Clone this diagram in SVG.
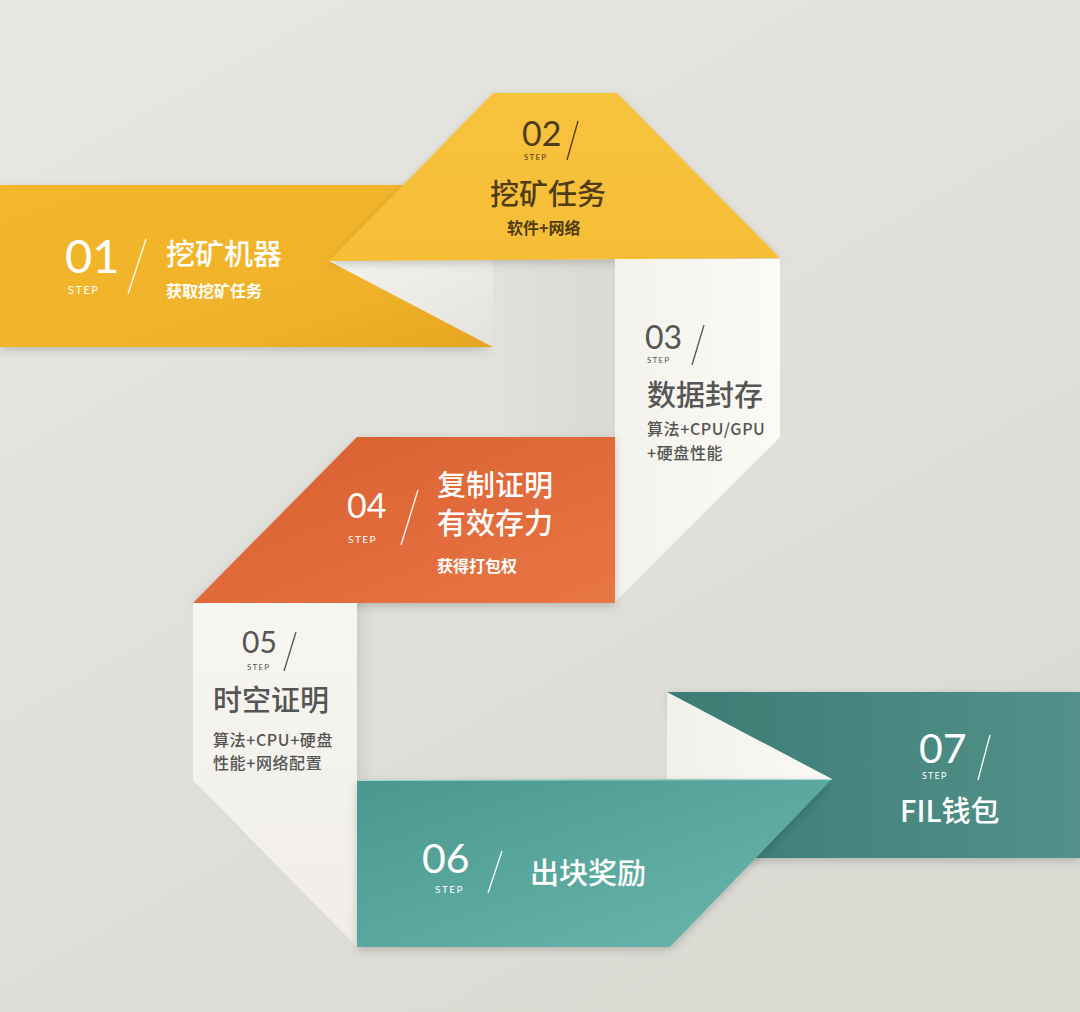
<svg xmlns="http://www.w3.org/2000/svg" width="1080" height="1012" viewBox="0 0 1080 1012">
<defs>
<style>
.num{font-family:Lato,'Liberation Sans',sans-serif;font-weight:400}
.step{font-family:Lato,'Liberation Sans',sans-serif;font-weight:400;letter-spacing:1.5px}
.title{font-family:'Noto Sans CJK SC',sans-serif;font-size:29px;font-weight:500}
.sub{font-family:'Noto Sans CJK SC',sans-serif;font-size:16px;font-weight:700}
.sp{letter-spacing:0.6px}
.w{fill:#ffffff}
.d{fill:#4f3c17}
.g{fill:#555555}
.slw{stroke:#ffffff;stroke-width:1.3}
.sld{stroke:#4f3c17;stroke-width:1.3}
.slg{stroke:#555555;stroke-width:1.3}
</style>
<linearGradient id="bg" x1="0" y1="0" x2="0.6" y2="1">
<stop offset="0" stop-color="#e8e8e3"/>
<stop offset="1" stop-color="#dbdad3"/>
</linearGradient>
<linearGradient id="y1" x1="0" y1="0" x2="1" y2="1">
<stop offset="0" stop-color="#f2b72c"/>
<stop offset="0.7" stop-color="#f0b22a"/>
<stop offset="1" stop-color="#e6a51f"/>
</linearGradient>
<linearGradient id="y2" x1="0" y1="0" x2="0" y2="1">
<stop offset="0" stop-color="#f8c33e"/>
<stop offset="1" stop-color="#f6be36"/>
</linearGradient>
<linearGradient id="wt1" x1="0" y1="0" x2="1" y2="1">
<stop offset="0" stop-color="#f5f3ef"/>
<stop offset="1" stop-color="#e4e2dc"/>
</linearGradient>
<linearGradient id="strip" x1="0" y1="0" x2="1" y2="0">
<stop offset="0" stop-color="#e2e1dc"/>
<stop offset="1" stop-color="#d9d8d2"/>
</linearGradient>
<linearGradient id="strip2" x1="0" y1="0" x2="1" y2="0">
<stop offset="0" stop-color="#cfcec7"/>
<stop offset="1" stop-color="#dfded8" stop-opacity="0"/>
</linearGradient>
<linearGradient id="p3" x1="0" y1="0" x2="1" y2="0">
<stop offset="0" stop-color="#f4f2ec"/>
<stop offset="1" stop-color="#fbfaf6"/>
</linearGradient>
<linearGradient id="or" x1="0" y1="0" x2="1" y2="1">
<stop offset="0" stop-color="#d85f2e"/>
<stop offset="1" stop-color="#e97545"/>
</linearGradient>
<linearGradient id="p5" x1="0" y1="0" x2="0" y2="1">
<stop offset="0" stop-color="#f8f6f1"/>
<stop offset="1" stop-color="#efede6"/>
</linearGradient>
<linearGradient id="t6" x1="0" y1="0" x2="1" y2="1">
<stop offset="0" stop-color="#4a978e"/>
<stop offset="1" stop-color="#6bb8af"/>
</linearGradient>
<linearGradient id="t7" x1="0" y1="0" x2="1" y2="0">
<stop offset="0" stop-color="#3b7c73"/>
<stop offset="1" stop-color="#52918a"/>
</linearGradient>
<linearGradient id="wt7" x1="0" y1="0" x2="1" y2="0">
<stop offset="0" stop-color="#f2f0ea"/>
<stop offset="1" stop-color="#fbfaf7"/>
</linearGradient>
<filter id="sh" x="-10%" y="-10%" width="120%" height="130%">
<feDropShadow dx="0" dy="3" stdDeviation="4" flood-color="#000" flood-opacity="0.18"/>
</filter>
</defs>
<rect x="0" y="0" width="1080" height="1012" fill="url(#bg)"/>
<rect x="493" y="258" width="122" height="180" fill="url(#strip)"/>
<rect x="357" y="603" width="22" height="178" fill="url(#strip2)"/>

<g id="step01">
<polygon points="0,185 420,185 329,261 493,347 0,347" fill="url(#y1)" filter="url(#sh)"/>
<polygon points="329,261 493,261 493,347" fill="url(#wt1)"/>
<text class="num w" x="65" y="273" font-size="47">01</text>
<text class="step w" x="68" y="294" font-size="11">STEP</text>
<line class="slw" x1="146" y1="239" x2="128" y2="294"/>
<text class="title w" x="166" y="265">挖矿机器</text>
<text class="sub w" x="166" y="297">获取挖矿任务</text>
</g>

<g id="step02">
<polygon points="493,93 617,93 780,258 329,261" fill="url(#y2)" filter="url(#sh)"/>
<text class="num d" x="522" y="146" font-size="34">02</text>
<text class="step d" x="524" y="160" font-size="8" style="letter-spacing:1.2px">STEP</text>
<line class="sld" x1="578" y1="121" x2="567" y2="160"/>
<text class="title d" x="490" y="205">挖矿任务</text>
<text class="sub d" x="507" y="234" font-size="15">软件+网络</text>
</g>

<g id="step03">
<polygon points="615,259 780,259 780,437 615,602" fill="url(#p3)"/>
<text class="num g" x="645" y="349" font-size="32">03</text>
<text class="step g" x="647" y="363" font-size="8" style="letter-spacing:1.2px">STEP</text>
<line class="slg" x1="704" y1="325" x2="692" y2="365"/>
<text class="title g" x="647" y="406">数据封存</text>
<text class="sub g sp" x="647" y="435" style="font-weight:500">算法+CPU/GPU</text>
<text class="sub g sp" x="647" y="459" style="font-weight:500">+硬盘性能</text>
</g>

<g id="step04">
<polygon points="357,437 615,437 615,603 193,603" fill="url(#or)" filter="url(#sh)"/>
<text class="num w" x="347" y="518" font-size="34">04</text>
<text class="step w" x="348" y="543" font-size="10">STEP</text>
<line class="slw" x1="418" y1="490" x2="401" y2="545"/>
<text class="title w" x="437" y="496">复制证明</text>
<text class="title w" x="437" y="534">有效存力</text>
<text class="sub w" x="437" y="572">获得打包权</text>
</g>

<g id="step05">
<polygon points="193,603 357,603 357,947 193,780" fill="url(#p5)"/>
<text class="num g" x="242" y="653" font-size="30">05</text>
<text class="step g" x="247" y="670" font-size="8" style="letter-spacing:1.2px">STEP</text>
<line class="slg" x1="296" y1="632" x2="284" y2="671"/>
<text class="title g" x="213" y="711">时空证明</text>
<text class="sub g sp" x="213" y="746" style="font-weight:500">算法+CPU+硬盘</text>
<text class="sub g sp" x="213" y="769" style="font-weight:500">性能+网络配置</text>
</g>

<g id="step07">
<polygon points="667,692 1080,692 1080,858 700,858" fill="url(#t7)" filter="url(#sh)"/>
<polygon points="667,692 832,779 667,779" fill="url(#wt7)"/>
<text class="num w" x="919" y="763" font-size="41">07</text>
<text class="step w" x="922" y="779" font-size="9" style="letter-spacing:1.2px">STEP</text>
<line class="slw" x1="990" y1="735" x2="978" y2="780"/>
<text class="title w" x="900" y="822">FIL钱包</text>
</g>

<g id="step06">
<polygon points="357,780 832,779 670,947 357,947" fill="url(#t6)" filter="url(#sh)"/>
<line x1="357" y1="780.5" x2="832" y2="779.5" stroke="#a8dcd6" stroke-width="1"/>
<text class="num w" x="422" y="873" font-size="41">06</text>
<text class="step w" x="435" y="893" font-size="10">STEP</text>
<line class="slw" x1="502" y1="851" x2="488" y2="893"/>
<text class="title w" x="530" y="884">出块奖励</text>
</g>

<g id="connectors"/>
</svg>
